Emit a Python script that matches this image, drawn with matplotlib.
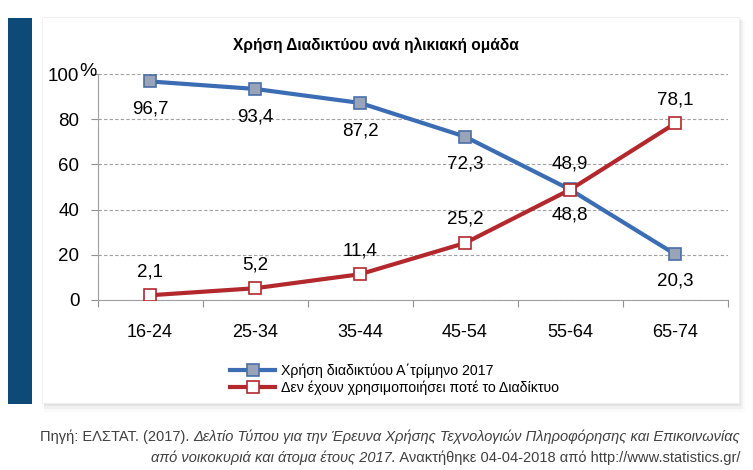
import matplotlib.pyplot as plt
from matplotlib.patches import Rectangle
from matplotlib.offsetbox import TextArea, HPacker, AnnotationBbox

# ==============================================================================
# Data
# ==============================================================================
ages = ['16-24', '25-34', '35-44', '45-54', '55-64', '65-74']
internet_use = [96.7, 93.4, 87.2, 72.3, 48.9, 20.3]
never_used = [2.1, 5.2, 11.4, 25.2, 48.8, 78.1]
label_use = 'Χρήση διαδικτύου Α΄τρίμηνο 2017'
label_never = 'Δεν έχουν χρησιμοποιήσει ποτέ το Διαδίκτυο'
title = 'Χρήση Διαδικτύου ανά ηλικιακή ομάδα'

use_offsets = [-20, -20, -20, -20, 18, -19]
never_offsets = [17, 17, 17, 17, -18, 17]

blue = '#3a6db3'
red = '#b3282d'

plt.rc('font', family=['Liberation Sans', 'DejaVu Sans'])

# ==============================================================================
# Figure and background panel
# ==============================================================================
W, H = 753, 470
fig = plt.figure(figsize=(W / 100, H / 100), dpi=100)

def px(x, y, w, h):
    return (x / W, 1 - (y + h) / H, w / W, h / H)

# shadow of the panel
for i, a in enumerate([0.10, 0.07, 0.04]):
    x0, y0, w0, h0 = px(44, 19 + i, 697 + 2 * i, 387 + 2 * i)
    fig.patches.append(Rectangle((x0, y0), w0, h0, transform=fig.transFigure,
                                 facecolor='#808080', alpha=a, edgecolor='none', zorder=0))
x0, y0, w0, h0 = px(42, 17, 697, 386)
fig.patches.append(Rectangle((x0, y0), w0, h0, transform=fig.transFigure,
                             facecolor='white', edgecolor='#eeeeee', lw=0.6, zorder=0.5))
# dark side bar
x0, y0, w0, h0 = px(8, 18, 24, 386)
fig.patches.append(Rectangle((x0, y0), w0, h0, transform=fig.transFigure,
                             facecolor='#0d4a77', edgecolor='none', zorder=1))

# ==============================================================================
# Chart
# ==============================================================================
ax = fig.add_axes(px(97.5, 74, 630, 226))
ax.set_zorder(3)
ax.set_facecolor('none')
x = list(range(len(ages)))

ax.plot(x, internet_use, color=blue, lw=3, marker='s', ms=8.5,
        mfc='#9aa4b9', mec='#4a6fa8', mew=1.2, label=label_use, zorder=3)
ax.plot(x, never_used, color=red, lw=3, marker='s', ms=8.5,
        mfc='white', mec=red, mew=1.2, label=label_never, zorder=3)

for xi, v, off in zip(x, internet_use, use_offsets):
    ax.annotate(f'{v:.1f}'.replace('.', ','), (xi, v), xytext=(0, off),
                textcoords='offset points', ha='center', va='center', fontsize=13.5)
for xi, v, off in zip(x, never_used, never_offsets):
    ax.annotate(f'{v:.1f}'.replace('.', ','), (xi, v), xytext=(0, off),
                textcoords='offset points', ha='center', va='center', fontsize=13.5)

ax.set_xlim(-0.5, len(ages) - 0.5)
ax.set_ylim(0, 100)
ax.set_yticks([0, 20, 40, 60, 80, 100])
ax.set_yticklabels(['0', '20', '40', '60', '80', '100'])
ax.set_xticks([i - 0.5 for i in range(len(ages) + 1)])
ax.set_xticklabels([])
ax.set_xticks(x, minor=True)
ax.set_xticklabels(ages, minor=True, fontsize=13)
ax.tick_params(axis='x', which='major', length=5, color='#909090', direction='out')
ax.tick_params(axis='x', which='minor', length=0, pad=17)
ax.tick_params(axis='y', length=5, color='#909090', labelsize=13.5, pad=8)
ax.text(-0.002, 1.012, '%', transform=ax.transAxes, ha='right', va='center',
        fontsize=14)

ax.grid(axis='y', color='#a0a0a0', ls=(0, (3, 2)), lw=0.8)
ax.set_axisbelow(True)
for s in ['top', 'right']:
    ax.spines[s].set_visible(False)
ax.spines['left'].set_color('#a0a0a0')
ax.spines['bottom'].set_color('#a0a0a0')

fig.text(376 / W, 1 - 45 / H, title, ha='center', va='center',
         fontsize=11.2, fontweight='bold')

fig.legend(loc='upper left', bbox_to_anchor=(230 / W, 1 - 363 / H), frameon=False,
           fontsize=10.2, handlelength=3.2, handletextpad=0.4, labelspacing=0.2,
           borderpad=0, borderaxespad=0)

# ==============================================================================
# Source
# ==============================================================================
src_font = dict(family=['Liberation Sans Narrow', 'Liberation Sans', 'DejaVu Sans'],
                fontsize=10.5, color='#404040')
line1 = HPacker(children=[
    TextArea('Πηγή: ΕΛΣΤΑΤ. (2017). ', textprops=src_font),
    TextArea('Δελτίο Τύπου για την Έρευνα Χρήσης Τεχνολογιών Πληροφόρησης και Επικοινωνίας',
             textprops=dict(src_font, style='italic'))], pad=0, sep=0)
line2 = HPacker(children=[
    TextArea('από νοικοκυριά και άτομα έτους 2017.', textprops=dict(src_font, style='italic')),
    TextArea(' Ανακτήθηκε 04-04-2018 από http://www.statistics.gr/', textprops=src_font)],
    pad=0, sep=0)
for box, yy in [(line1, 437), (line2, 458)]:
    ab = AnnotationBbox(box, (740 / W, 1 - yy / H), xycoords='figure fraction',
                        box_alignment=(1, 0.5), frameon=False, pad=0)
    fig.add_artist(ab)

fig.savefig('out.png', dpi=100)
